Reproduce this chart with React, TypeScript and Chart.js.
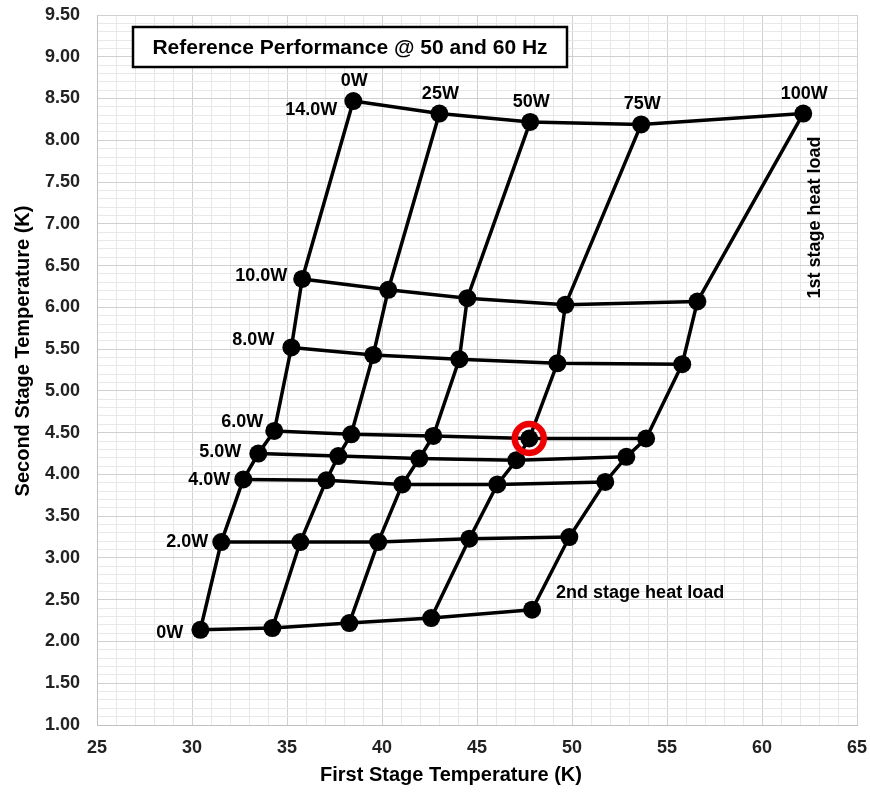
import React, { useEffect, useRef } from 'react';
import { Chart, registerables } from 'chart.js';

Chart.register(...registerables);

const FONT = '"Liberation Sans", Arial, Helvetica, sans-serif';

// Category labels
const firstStageLoads = ['0W', '25W', '50W', '75W', '100W'];
const secondStageLoads = ['0W', '2.0W', '4.0W', '5.0W', '6.0W', '8.0W', '10.0W', '14.0W'];

// First stage temperature (K), one array per 2nd-stage load, columns = 1st-stage loads
const t1_0W = [30.44, 34.23, 38.28, 42.59, 47.9];
const t1_2W = [31.54, 35.7, 39.8, 44.6, 49.86];
const t1_4W = [32.7, 37.07, 41.07, 46.07, 51.75];
const t1_5W = [33.49, 37.7, 41.96, 47.07, 52.86];
const t1_6W = [34.33, 38.38, 42.7, 47.75, 53.9];
const t1_8W = [35.23, 39.54, 44.07, 49.23, 55.8];
const t1_10W = [35.8, 40.33, 44.49, 49.65, 56.6];
const t1_14W = [38.49, 43.02, 47.8, 53.64, 62.17];

// Second stage temperature (K)
const t2_0W = [2.14, 2.16, 2.22, 2.28, 2.38];
const t2_2W = [3.19, 3.19, 3.19, 3.23, 3.25];
const t2_4W = [3.94, 3.93, 3.88, 3.88, 3.91];
const t2_5W = [4.25, 4.22, 4.19, 4.17, 4.21];
const t2_6W = [4.52, 4.48, 4.46, 4.43, 4.43];
const t2_8W = [5.52, 5.43, 5.38, 5.33, 5.32];
const t2_10W = [6.34, 6.21, 6.11, 6.03, 6.07];
const t2_14W = [8.47, 8.32, 8.22, 8.19, 8.32];

// Highlighted operating point (2nd stage row, 1st stage column)
const highlightRow = 4;
const highlightCol = 3;

// Axis ranges / ticks
const xMin = 25, xMax = 65, xMinorStep = 1, xMajorStep = 5;
const yMin = 1, yMax = 9.5, yMinorStep = 0.1, yMajorStep = 0.5;

const titleText = 'Reference Performance @ 50 and 60 Hz';
const xTitle = 'First Stage Temperature (K)';
const yTitle = 'Second Stage Temperature (K)';
const firstStageNote = '1st stage heat load';
const secondStageNote = '2nd stage heat load';

const t1Rows = [t1_0W, t1_2W, t1_4W, t1_5W, t1_6W, t1_8W, t1_10W, t1_14W];
const t2Rows = [t2_0W, t2_2W, t2_4W, t2_5W, t2_6W, t2_8W, t2_10W, t2_14W];

// label offsets (px) for row labels relative to first-column point
const rowLabelOffsets: [number, number][] = [
  [-17, 3], [-13, 0], [-13, 1], [-17, -1], [-11, -9], [-17, -7], [-15, -3], [-16, 9],
];

const isMultiple = (v: number, step: number) => {
  const r = v / step;
  return Math.abs(r - Math.round(r)) < 1e-6;
};

const annotationPlugin = {
  id: 'annotationPlugin',
  afterDraw(chart: any) {
    const { ctx, chartArea } = chart;
    const xs = chart.scales.x;
    const ys = chart.scales.y;
    ctx.save();
    ctx.fillStyle = '#000';
    ctx.font = `bold 18px ${FONT}`;
    ctx.textBaseline = 'middle';

    // column labels (1st stage heat load) above top row
    const top = t1Rows.length - 1;
    ctx.textAlign = 'center';
    firstStageLoads.forEach((lab, j) => {
      const px = xs.getPixelForValue(t1Rows[top][j]);
      const py = ys.getPixelForValue(t2Rows[top][j]);
      ctx.fillText(lab, px + 1, py - 20);
    });

    // row labels (2nd stage heat load) left of first column
    ctx.textAlign = 'right';
    secondStageLoads.forEach((lab, i) => {
      const px = xs.getPixelForValue(t1Rows[i][0]);
      const py = ys.getPixelForValue(t2Rows[i][0]);
      const [dx, dy] = rowLabelOffsets[i];
      ctx.fillText(lab, px + dx, py + dy);
    });

    // 2nd stage heat load note
    {
      const last = firstStageLoads.length - 1;
      const px = xs.getPixelForValue(t1Rows[0][last]);
      const py = ys.getPixelForValue(t2Rows[0][last]);
      ctx.textAlign = 'left';
      ctx.fillText(secondStageNote, px + 24, py - 17);
    }

    // 1st stage heat load note (vertical)
    {
      const last = firstStageLoads.length - 1;
      const px = xs.getPixelForValue(t1Rows[top][last]);
      const py = ys.getPixelForValue(t2Rows[top][last]);
      ctx.save();
      ctx.translate(px + 12, py + 104);
      ctx.rotate(-Math.PI / 2);
      ctx.textAlign = 'center';
      ctx.fillText(firstStageNote, 0, 0);
      ctx.restore();
    }

    // title box
    {
      const bx = chartArea.left + 36;
      const by = chartArea.top + 12;
      const bw = 434;
      const bh = 40;
      ctx.fillStyle = '#fff';
      ctx.fillRect(bx, by, bw, bh);
      ctx.strokeStyle = '#000';
      ctx.lineWidth = 2.5;
      ctx.strokeRect(bx, by, bw, bh);
      ctx.fillStyle = '#000';
      ctx.font = `bold 21px ${FONT}`;
      ctx.textAlign = 'center';
      ctx.fillText(titleText, bx + bw / 2, by + bh / 2 + 1);
    }

    // axis titles
    ctx.font = `bold 20px ${FONT}`;
    ctx.fillStyle = '#000';
    ctx.textAlign = 'center';
    ctx.fillText(xTitle, 451, 775);
    ctx.save();
    ctx.translate(23, 351);
    ctx.rotate(-Math.PI / 2);
    ctx.fillText(yTitle, 0, 0);
    ctx.restore();

    ctx.restore();
  },
};

export default function App() {
  const ref = useRef<HTMLCanvasElement>(null);

  useEffect(() => {
    document.body.style.margin = '0';
    const rowSets = t1Rows.map((row, i) => ({
      label: `2nd ${secondStageLoads[i]}`,
      data: row.map((xv, j) => ({ x: xv, y: t2Rows[i][j] })),
      showLine: true,
      borderColor: '#000',
      backgroundColor: '#000',
      borderWidth: 3.5,
      pointRadius: 9,
      pointHoverRadius: 9,
      pointBackgroundColor: '#000',
      pointBorderWidth: 0,
      tension: 0,
      order: 1,
    }));
    const colSets = firstStageLoads.map((lab, j) => ({
      label: `1st ${lab}`,
      data: t1Rows.map((row, i) => ({ x: row[j], y: t2Rows[i][j] })),
      showLine: true,
      borderColor: '#000',
      backgroundColor: '#000',
      borderWidth: 3.5,
      pointRadius: 0,
      tension: 0,
      order: 2,
    }));
    const highlight = {
      label: 'highlight',
      data: [{ x: t1Rows[highlightRow][highlightCol], y: t2Rows[highlightRow][highlightCol] }],
      showLine: false,
      pointRadius: 14.5,
      pointBorderWidth: 6.5,
      pointBorderColor: '#ee0000',
      pointBackgroundColor: 'rgba(0,0,0,0)',
      order: 0,
    };

    const gridColor = (step: number) => (c: any) =>
      c.tick && isMultiple(c.tick.value, step) ? '#d0d0d0' : '#e8e8e8';

    const chart = new Chart(ref.current!, {
      type: 'scatter',
      data: { datasets: [highlight, ...rowSets, ...colSets] as any },
      options: {
        responsive: false,
        animation: false,
        layout: { autoPadding: false, padding: { left: 0, right: 13, top: 15, bottom: 0 } },
        plugins: { legend: { display: false }, tooltip: { enabled: false } },
        scales: {
          x: {
            type: 'linear',
            min: xMin,
            max: xMax,
            afterFit: (s: any) => {
              s.height = 67;
              s.paddingLeft = 0;
              s.paddingRight = 0;
            },
            grid: { color: gridColor(xMajorStep), drawTicks: false, lineWidth: 1 },
            border: { color: '#c0c0c0', width: 1 },
            ticks: {
              stepSize: xMinorStep,
              autoSkip: false,
              maxRotation: 0,
              padding: 12,
              color: '#222',
              font: { family: FONT, size: 18, weight: 'bold' },
              callback: (v: any) => (isMultiple(Number(v), xMajorStep) ? String(Math.round(Number(v))) : ''),
            },
          },
          y: {
            type: 'linear',
            min: yMin,
            max: yMax,
            afterFit: (s: any) => {
              s.width = 97;
              s.paddingTop = 0;
              s.paddingBottom = 0;
            },
            grid: { color: gridColor(yMajorStep), drawTicks: false, lineWidth: 1 },
            border: { color: '#c0c0c0', width: 1 },
            ticks: {
              stepSize: yMinorStep,
              autoSkip: false,
              padding: 17,
              color: '#222',
              font: { family: FONT, size: 18, weight: 'bold' },
              callback: (v: any) => (isMultiple(Number(v), yMajorStep) ? Number(v).toFixed(2) : ''),
            },
          },
        },
      } as any,
      plugins: [annotationPlugin],
    });
    return () => chart.destroy();
  }, []);

  return (
    <div style={{ width: 870, height: 792 }}>
      <canvas ref={ref} width={870} height={792} style={{ display: 'block' }} />
    </div>
  );
}
